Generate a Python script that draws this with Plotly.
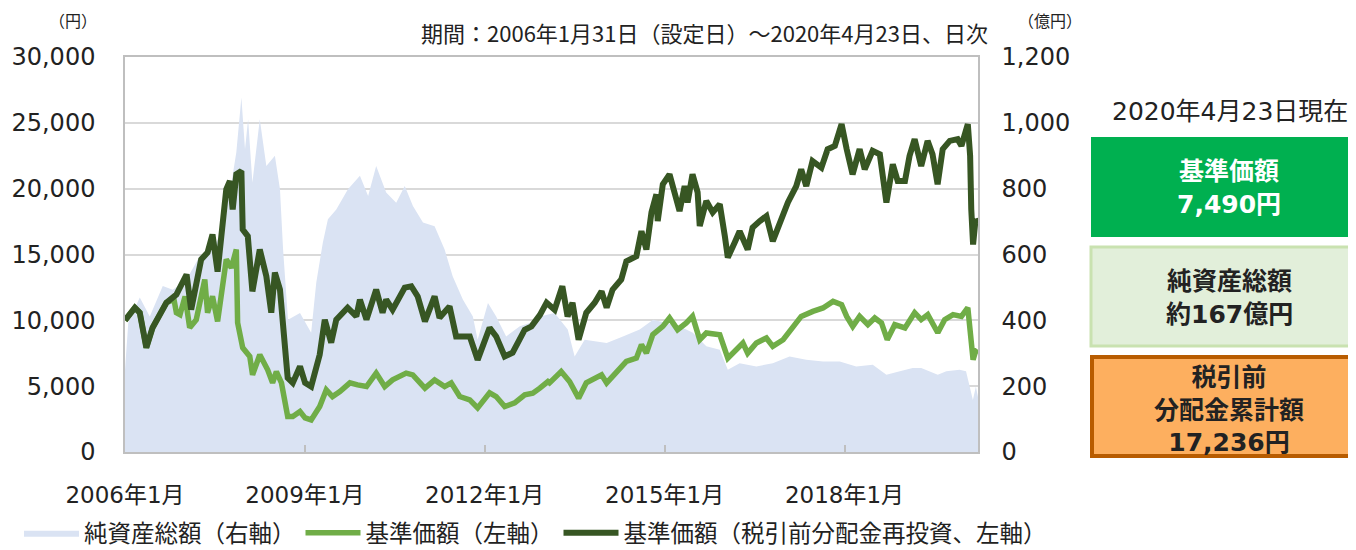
import plotly.graph_objects as go

# ---------------- data ----------------
reinv_dates = [
    "2006-01-31", "2006-02-20", "2006-04-01", "2006-05-01", "2006-06-10", "2006-07-18",
    "2006-10-10", "2006-12-10", "2007-02-10", "2007-03-10", "2007-05-10", "2007-06-18",
    "2007-07-18", "2007-08-18", "2007-10-10", "2007-11-01", "2007-11-18", "2007-12-10",
    "2008-01-10", "2008-01-18", "2008-02-18", "2008-03-17", "2008-05-01", "2008-06-10",
    "2008-07-10", "2008-08-01", "2008-09-01", "2008-10-18", "2008-11-18", "2009-01-01",
    "2009-02-01", "2009-03-10", "2009-05-01", "2009-06-01", "2009-07-10", "2009-08-10",
    "2009-10-18", "2009-12-10", "2010-01-01", "2010-02-10", "2010-04-10", "2010-05-19",
    "2010-06-10", "2010-07-19", "2010-08-19", "2010-10-01", "2010-11-10", "2010-12-19",
    "2011-02-01", "2011-04-01", "2011-05-01", "2011-07-01", "2011-08-10", "2011-11-01",
    "2011-12-19", "2012-03-01", "2012-04-10", "2012-06-01", "2012-07-19", "2012-10-01",
    "2012-11-11", "2013-01-01", "2013-02-11", "2013-04-01", "2013-05-18", "2013-06-19",
    "2013-07-19", "2013-08-25", "2013-10-11", "2013-12-01", "2014-01-12", "2014-02-12",
    "2014-03-20", "2014-05-12", "2014-06-12", "2014-08-12", "2014-09-12", "2014-10-12",
    "2014-11-12", "2014-12-12", "2014-12-20", "2015-01-20", "2015-03-02", "2015-04-02",
    "2015-05-02", "2015-06-02", "2015-06-20", "2015-07-20", "2015-08-20", "2015-09-02",
    "2015-10-12", "2015-11-20", "2016-01-02", "2016-02-02", "2016-02-20", "2016-04-02",
    "2016-05-02", "2016-06-20", "2016-07-20", "2016-09-02", "2016-10-12", "2016-11-20",
    "2017-01-02", "2017-02-20", "2017-04-12", "2017-05-12", "2017-06-12", "2017-07-20",
    "2017-09-12", "2017-10-20", "2017-12-03", "2018-01-13", "2018-02-13", "2018-03-21",
    "2018-05-03", "2018-06-03", "2018-07-21", "2018-09-03", "2018-10-13", "2018-11-21",
    "2018-12-21", "2019-02-03", "2019-03-03", "2019-04-03", "2019-05-13", "2019-06-21",
    "2019-07-21", "2019-08-21", "2019-09-21", "2019-11-03", "2019-12-21", "2020-01-13",
    "2020-02-21", "2020-03-06", "2020-03-13", "2020-03-24", "2020-04-08", "2020-04-23",
]
reinv_values = [
    10000, 10300, 10960, 10580, 7920, 9440,
    11340, 11950, 13480, 10810, 14620, 15150,
    16520, 13700, 19950, 20580, 18430, 21090,
    21340, 16900, 16390, 12200, 15380, 13350,
    10580, 13630, 12330, 5630, 5250, 6500,
    5250, 4970, 7390, 10050, 8300, 10050,
    10960, 10300, 11570, 10050, 12330, 10580,
    11570, 10810, 11570, 12490, 12590, 11820,
    9920, 11820, 10200, 11060, 8780, 8780,
    7000, 9440, 8780, 7260, 7540, 9290,
    9540, 10400, 11340, 10810, 12590, 10300,
    11340, 8530, 10580, 11340, 12200, 10960,
    12330, 13100, 14490, 14870, 16770, 15380,
    18200, 19570, 17540, 20330, 21090, 19720,
    18300, 20200, 18960, 21090, 19720, 17160,
    19060, 18200, 18810, 16390, 14770, 15910,
    16770, 15380, 17050, 17540, 17920, 16010,
    17440, 18960, 20200, 21470, 20200, 22100,
    21600, 23000, 23250, 24900, 23000, 21090,
    23000, 21470, 22870, 22610, 18940, 21850,
    20580, 20580, 22490, 23760, 21720, 23630,
    22610, 20330, 23000, 23630, 23760, 23250,
    24900, 22500, 18430, 15760, 17660, 17400,
]

nav_dates = [
    "2006-01-31", "2006-02-20", "2006-04-01", "2006-05-01", "2006-06-10", "2006-07-18",
    "2006-10-10", "2006-11-25", "2006-12-10", "2007-01-01", "2007-02-01", "2007-03-01",
    "2007-04-10", "2007-06-01", "2007-06-18", "2007-07-18", "2007-08-18", "2007-10-10",
    "2007-11-10", "2007-12-10", "2007-12-18", "2008-01-18", "2008-03-01", "2008-03-18",
    "2008-05-01", "2008-06-18", "2008-07-18", "2008-08-10", "2008-09-10", "2008-10-18",
    "2008-11-18", "2009-01-01", "2009-02-01", "2009-03-10", "2009-05-01", "2009-06-10",
    "2009-07-18", "2009-09-01", "2009-11-01", "2009-12-18", "2010-02-10", "2010-04-10",
    "2010-06-01", "2010-07-19", "2010-10-10", "2010-11-19", "2011-02-01", "2011-04-01",
    "2011-06-01", "2011-07-11", "2011-09-01", "2011-11-01", "2011-12-19", "2012-03-01",
    "2012-04-10", "2012-06-01", "2012-08-01", "2012-10-01", "2012-11-19", "2013-01-01",
    "2013-02-19", "2013-03-01", "2013-05-11", "2013-07-01", "2013-08-25", "2013-10-11",
    "2014-01-12", "2014-02-12", "2014-05-01", "2014-06-12", "2014-08-12", "2014-09-12",
    "2014-10-12", "2014-11-20", "2015-01-20", "2015-03-02", "2015-04-20", "2015-06-12",
    "2015-07-20", "2015-09-02", "2015-10-12", "2016-01-02", "2016-02-20", "2016-04-12",
    "2016-05-22", "2016-06-20", "2016-08-12", "2016-10-12", "2016-11-20", "2017-01-22",
    "2017-03-22", "2017-05-12", "2017-07-22", "2017-09-22", "2017-11-22", "2018-01-13",
    "2018-02-13", "2018-03-22", "2018-05-03", "2018-06-22", "2018-08-03", "2018-09-13",
    "2018-10-18", "2018-12-03", "2019-02-03", "2019-04-03", "2019-05-13", "2019-06-22",
    "2019-08-22", "2019-10-03", "2019-11-23", "2020-01-13", "2020-02-21", "2020-03-13",
    "2020-03-24", "2020-04-08", "2020-04-23",
]
nav_values = [
    10000, 10300, 10960, 10580, 7920, 9440,
    11340, 11600, 10580, 10430, 11820, 9440,
    10050, 13100, 10580, 11820, 9920, 14620,
    13990, 15380, 9820, 7920, 7260, 5860,
    7390, 6240, 5250, 6110, 5250, 2690,
    2690, 3070, 2590, 2440, 3450, 4720,
    4210, 4590, 5250, 5100, 4970, 5990,
    4970, 5480, 5990, 5860, 4850, 5480,
    4970, 5250, 4210, 3960, 3350, 4490,
    4210, 3450, 3730, 4340, 4470, 4850,
    5350, 5250, 6110, 5350, 4090, 5250,
    5860, 5250, 6240, 6880, 7130, 8150,
    7510, 8910, 9540, 10180, 9290, 9800,
    10300, 8530, 9040, 8910, 7130, 7770,
    8280, 7510, 8280, 8660, 8020, 8530,
    9420, 10300, 10680, 10940, 11440, 11190,
    10300, 9540, 10300, 9670, 10180, 9800,
    8530, 9670, 9420, 10580, 10050, 10430,
    9060, 10050, 10430, 10300, 10960, 8200,
    7000, 7640, 7490,
]

asset_dates = [
    "2006-01-31", "2006-02-20", "2006-05-01", "2006-07-01", "2006-09-18", "2006-11-18",
    "2007-02-10", "2007-05-01", "2007-07-01", "2007-09-01", "2007-11-01", "2007-12-10",
    "2008-01-10", "2008-02-01", "2008-02-20", "2008-03-17", "2008-05-01", "2008-06-10",
    "2008-08-01", "2008-09-01", "2008-09-20", "2008-10-20", "2009-01-01", "2009-03-10",
    "2009-04-10", "2009-05-20", "2009-06-20", "2009-08-10", "2009-10-20", "2010-01-01",
    "2010-02-20", "2010-04-10", "2010-06-10", "2010-08-10", "2010-10-01", "2010-11-20",
    "2011-01-20", "2011-04-01", "2011-06-01", "2011-07-20", "2011-09-20", "2011-11-20",
    "2011-12-19", "2012-02-20", "2012-04-10", "2012-06-10", "2012-09-01", "2012-11-01",
    "2013-01-01", "2013-04-01", "2013-06-20", "2013-08-01", "2013-10-01", "2014-02-12",
    "2014-05-22", "2014-09-01", "2014-11-22", "2015-02-12", "2015-05-02", "2015-07-22",
    "2015-10-12", "2016-01-02", "2016-02-20", "2016-05-02", "2016-08-12", "2016-11-20",
    "2017-03-02", "2017-06-12", "2017-09-22", "2018-01-02", "2018-04-12", "2018-07-22",
    "2018-10-13", "2019-01-03", "2019-03-22", "2019-05-13", "2019-08-22", "2019-10-13",
    "2020-01-02", "2020-02-10", "2020-03-23", "2020-04-10", "2020-04-23",
]
asset_values = [
    250, 393, 469, 412, 504, 493,
    524, 595, 606, 656, 788, 910,
    1077, 920, 1011, 818, 1011, 869,
    900, 798, 615, 402, 422, 362,
    514, 636, 707, 737, 798, 839,
    778, 869, 788, 757, 808, 747,
    697, 686, 615, 534, 463, 412,
    341, 453, 412, 351, 382, 392,
    412, 422, 372, 290, 341, 331,
    351, 372, 402, 392, 382, 362,
    321, 311, 250, 270, 260, 270,
    290, 280, 275, 275, 260, 265,
    235, 245, 255, 255, 235, 245,
    250, 245, 158, 199, 167,
]

x_tick_vals = ["2006-01-31", "2009-01-31", "2012-01-31", "2015-01-31", "2018-01-31"]
x_tick_text = ["2006年1月", "2009年1月", "2012年1月", "2015年1月", "2018年1月"]
left_ticks = [0, 5000, 10000, 15000, 20000, 25000, 30000]
right_ticks = [0, 200, 400, 600, 800, 1000, 1200]

# ---------------- layout helpers ----------------
# The page body keeps its default 8px margin, so the figure is drawn 8px
# lower and further right than its own origin; size it to fill the window.
OFF = 8
W, H = 1356 - OFF, 550 - OFF
# plot-area edges in window pixels
PL, PR, PT, PB = 125, 978, 57, 452
FONT = "DejaVu Sans, Noto Sans CJK JP, sans-serif"
JFONT = "Noto Sans CJK JP, sans-serif"


def px(x):
    return (x - PL) / (PR - PL)


def py(y):
    return (PB - y) / (PB - PT)


fig = go.Figure()
fig.add_trace(go.Scatter(
    x=asset_dates, y=asset_values, name="純資産総額（右軸）", mode="lines",
    fill="tozeroy", fillcolor="#DAE3F3", line=dict(width=0, color="#DAE3F3"),
    yaxis="y", hoverinfo="skip"))
fig.add_trace(go.Scatter(
    x=nav_dates, y=nav_values, name="基準価額（左軸）", mode="lines",
    line=dict(color="#70AD47", width=5.5), yaxis="y2"))
fig.add_trace(go.Scatter(
    x=reinv_dates, y=reinv_values, name="基準価額（税引前分配金再投資、左軸）", mode="lines",
    line=dict(color="#375623", width=6), yaxis="y2"))

axis_line = "#BFBFBF"
fig.update_layout(
    width=W, height=H,
    margin=dict(l=PL - OFF, r=W - (PR - OFF), t=PT - OFF, b=H - (PB - OFF),
                pad=0, autoexpand=False),
    paper_bgcolor="white", plot_bgcolor="white",
    font=dict(family=FONT, size=23, color="#222222"),
    showlegend=True,
    xaxis=dict(
        type="date", range=["2006-01-31", "2020-04-23"],
        tickmode="array", tickvals=x_tick_vals, ticktext=x_tick_text,
        ticks="inside", ticklen=7, tickwidth=1.5, tickcolor=axis_line,
        showline=True, linecolor=axis_line, linewidth=1.5, mirror=True,
        showgrid=False, zeroline=False, ticklabelstandoff=22, automargin=False,
        tickfont=dict(size=23, family=FONT),
    ),
    yaxis=dict(
        side="right", range=[0, 1200], tickmode="array", tickvals=right_ticks,
        tickformat=",", showgrid=True, gridcolor="#D9D9D9", gridwidth=1.5,
        showline=True, linecolor=axis_line, linewidth=1.5, zeroline=False,
        ticks="", ticklabelstandoff=17, automargin=False,
        tickfont=dict(size=24, family=FONT),
    ),
    yaxis2=dict(
        side="left", overlaying="y", range=[0, 30000], tickmode="array",
        tickvals=left_ticks, tickformat=",", showgrid=False,
        showline=True, linecolor=axis_line, linewidth=1.5, zeroline=False,
        ticks="", ticklabelstandoff=23, automargin=False,
        tickfont=dict(size=24, family=FONT),
    ),
    # anchored by its right edge beyond the plot area so that the legend may
    # use the full width below the chart and stay on one row
    legend=dict(
        orientation="h", x=px(1052), y=py(533), xanchor="right", yanchor="middle",
        font=dict(size=23.5, family=JFONT, color="#222222"),
        itemwidth=55, bgcolor="rgba(0,0,0,0)",
    ),
)

annotations = [
    dict(text="（円）", x=px(73), y=py(20), font=dict(size=16, family=JFONT)),
    dict(text="（億円）", x=px(1050), y=py(20), font=dict(size=16, family=JFONT)),
    dict(text="期間：2006年1月31日（設定日）～2020年4月23日、日次", x=px(990), y=py(32),
         xanchor="right", font=dict(size=22, family=JFONT)),
    dict(text="2020年4月23日現在", x=px(1230), y=py(112), font=dict(size=25, family=FONT)),
    dict(text="<b>基準価額<br>7,490円</b>", x=px(1229), y=py(188),
         font=dict(size=25, family=FONT, color="white")),
    dict(text="<b>純資産総額<br>約167億円</b>", x=px(1229), y=py(298),
         font=dict(size=25, family=FONT)),
    dict(text="<b>税引前<br>分配金累計額<br>17,236円</b>", x=px(1229), y=py(410),
         font=dict(size=25, family=FONT)),
]
for a in annotations:
    a.setdefault("xanchor", "center")
    a.update(xref="paper", yref="paper", yanchor="middle", showarrow=False)
    a["font"].setdefault("color", "#222222")
fig.update_layout(annotations=annotations)

shapes = [
    dict(type="rect", x0=px(1091), x1=px(1362), y0=py(237), y1=py(137),
         fillcolor="#00B050", line=dict(width=0)),
    dict(type="rect", x0=px(1091), x1=px(1362), y0=py(346), y1=py(247),
         fillcolor="#E2EFDA", line=dict(width=3, color="#C9E2B0")),
    dict(type="rect", x0=px(1092), x1=px(1362), y0=py(456), y1=py(357),
         fillcolor="#FDAF5F", line=dict(width=4, color="#B85C00")),
]
for s in shapes:
    s.update(xref="paper", yref="paper", layer="above")
fig.update_layout(shapes=shapes)

fig.write_html("out.html")
